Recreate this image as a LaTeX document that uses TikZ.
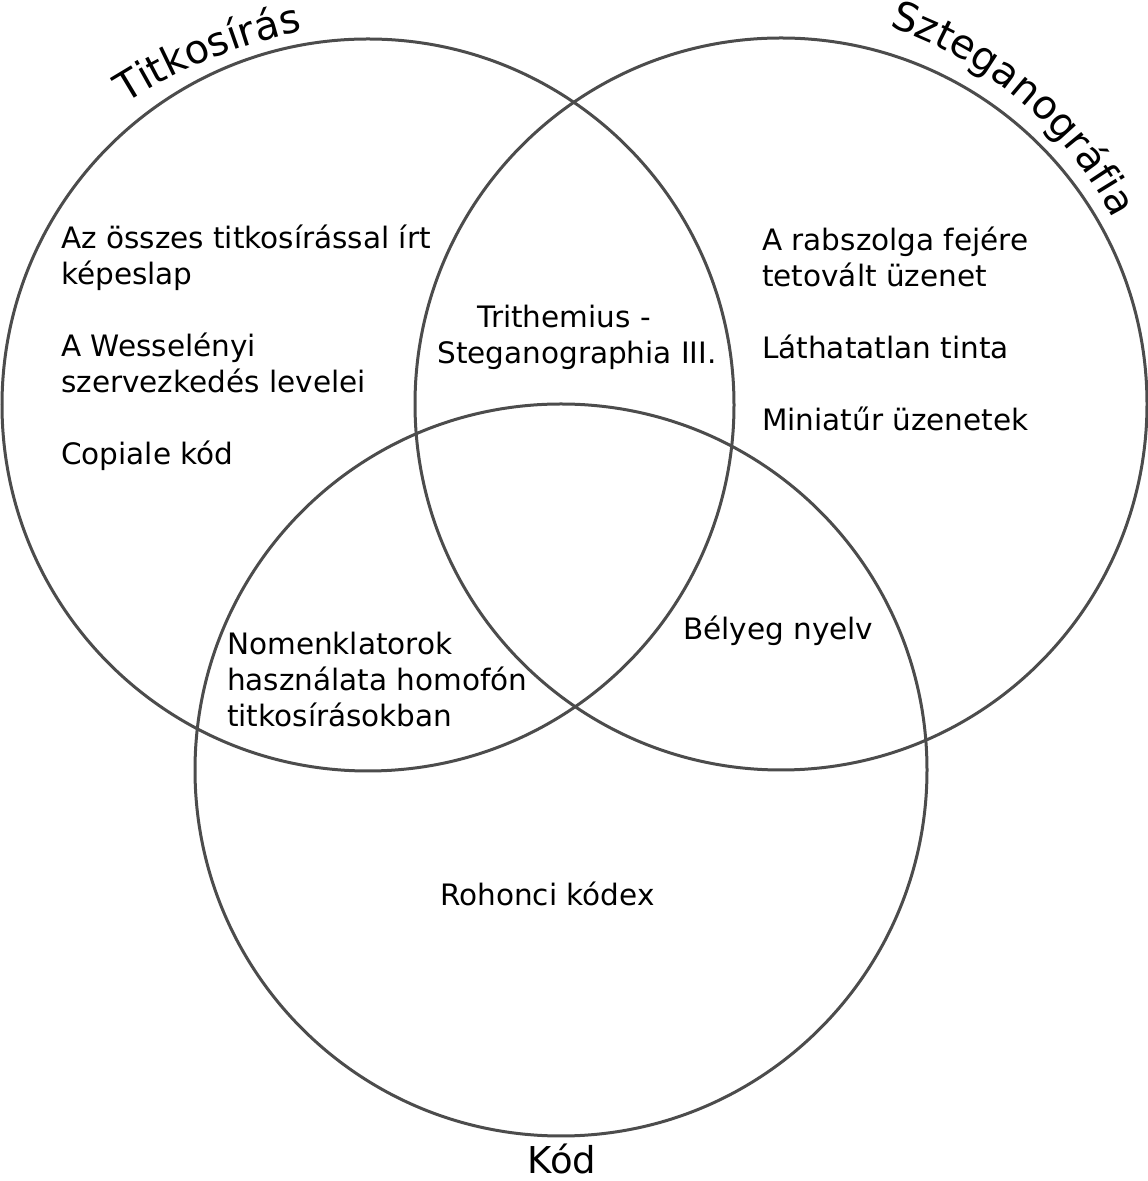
\documentclass[tikz,border=0pt]{standalone}
\usepackage{fontspec}
\setmainfont{DejaVu Sans}
\usepackage{tikz}
\usetikzlibrary{decorations.text}

\tikzset{
  halmaz/.style={draw=black!70, line width=3pt},
  elem/.style={inner sep=0pt, anchor=base west, align=left, font=\fontsize{29.5}{36}\selectfont},
  cim/.style={decorate, decoration={text along path, text align=center, text={|\fontsize{40}{48}\selectfont|#1}}}
}

\begin{document}
\begin{tikzpicture}[x=1pt, y=1pt]
    \useasboundingbox (0,0) rectangle (1148,1181);

    % Halmazok
    \draw[halmaz] (368,776) circle (366);
    \draw[halmaz] (781,777) circle (366);
    \draw[halmaz] (561,411) circle (366);

    % Feliratok a körök mentén
    \path[cim={Titkosírás}] (420,611) ++(135:552) arc[start angle=135, end angle=89.6, radius=552];
    \path[cim={Szteganográfia}] (766,784) ++(80:390) arc[start angle=80, end angle=18.8, radius=390];
    \node[inner sep=0pt, anchor=base, font=\fontsize{37}{44}\selectfont] (kodcim) at (562,7) {Kód};

    % Titkosírás
    \node[elem] (kepeslap) at (61,896) {Az összes titkosírással írt\\képeslap};
    \node[elem] (wesselenyi) at (61,788) {A Wesselényi\\szervezkedés levelei};
    \node[elem] (copiale) at (61,716) {Copiale kód};

    % Szteganográfia
    \node[elem] (rabszolga) at (762,894) {A rabszolga fejére\\tetovált üzenet};
    \node[elem] (tinta) at (762,822) {Láthatatlan tinta};
    \node[elem] (miniatur) at (762,750) {Miniatűr üzenetek};

    % Metszetek
    \node[elem, anchor=base, align=center] (trithemius) at (577,817) {Trithemius -\hspace*{26pt}\\Steganographia III.};
    \node[elem] (nomenklator) at (227,454) {Nomenklatorok\\használata homofón\\titkosírásokban};
    \node[elem] (belyeg) at (683,541) {Bélyeg nyelv};

    % Kód
    \node[elem] (rohonci) at (440,275) {Rohonci kódex};
\end{tikzpicture}
\end{document}
